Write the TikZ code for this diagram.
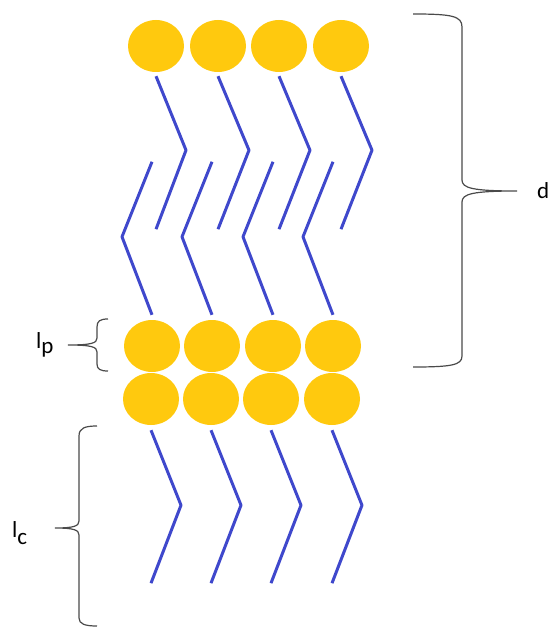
\documentclass[tikz,border=0pt]{standalone}
\usepackage{fontspec}
\setmainfont{Carlito}
\usepackage{tikz}
\usetikzlibrary{shapes.geometric}

\definecolor{headgold}{HTML}{FFC90E}
\definecolor{tailblue}{HTML}{3F48CC}
\definecolor{bracegray}{HTML}{4A4A4A}

\tikzset{
    head/.style={ellipse, fill=headgold, minimum width=56pt, minimum height=52pt, inner sep=0pt},
    tail/.style={draw=tailblue, line width=3pt, line join=round},
    bracket/.style={draw=bracegray, line width=1.2pt},
    lbl/.style={font=\fontsize{23}{26}\selectfont, inner sep=0pt, anchor=base west},
}

\begin{document}
\begin{tikzpicture}[x=1pt, y=-1pt]
        \useasboundingbox (0,0) rectangle (550,628);

        % heads of the top leaflet
        \node[head] at (156,46)   (T1) {};
        \node[head] at (218,46)   (T2) {};
        \node[head] at (279,46)   (T3) {};
        \node[head] at (341,46)   (T4) {};
        % heads of the bottom leaflet
        \node[head] at (152,346)  (M1) {};
        \node[head] at (212,346)  (M2) {};
        \node[head] at (273,346)  (M3) {};
        \node[head] at (333,346)  (M4) {};
        % heads of the next layer
        \node[head] at (151,399)  (B1) {};
        \node[head] at (211,399)  (B2) {};
        \node[head] at (271,399)  (B3) {};
        \node[head] at (332,399)  (B4) {};

        \draw[tail] ([yshift=-4pt]T1.south) -- ++(30,74) -- ++(-30,79);
        \draw[tail] ([yshift=-4pt]T2.south) -- ++(31,74) -- ++(-31,79);
        \draw[tail] ([yshift=-4pt]T3.south) -- ++(31,74) -- ++(-31,79);
        \draw[tail] ([yshift=-4pt]T4.south) -- ++(31,74) -- ++(-31,79);

        \draw[tail] ([yshift=5pt]M1.north) -- ++(-30,-78) -- ++(30,-75);
        \draw[tail] ([yshift=5pt]M2.north) -- ++(-30,-78) -- ++(30,-75);
        \draw[tail] ([yshift=5pt]M3.north) -- ++(-30,-78) -- ++(30,-75);
        \draw[tail] ([yshift=5pt]M4.north) -- ++(-30,-78) -- ++(30,-75);

        \draw[tail] ([yshift=-5pt]B1.south) -- ++(30,75) -- ++(-30,78);
        \draw[tail] ([yshift=-5pt]B2.south) -- ++(30,75) -- ++(-30,78);
        \draw[tail] ([yshift=-5pt]B3.south) -- ++(30,75) -- ++(-30,78);
        \draw[tail] ([yshift=-5pt]B4.south) -- ++(30,75) -- ++(-30,78);

        % labels
        \node[lbl] at (537,199) (d)  {d};
        \node[lbl] at (36,348)  (lp) {l\raisebox{-5pt}{p}};
        \node[lbl] at (12,537)  (lc) {l\raisebox{-7pt}{c}};

        % braces
        \draw[bracket] (413,14) .. controls (452,14) and (462,16) .. (462,27) -- (462,180)
            .. controls (462,188) and (472,191) .. (517,191)
            .. controls (472,191) and (462,194) .. (462,202) -- (462,356)
            .. controls (462,365) and (452,367) .. (413,367);
        \draw[bracket] (108,319) .. controls (100,319) and (97,321) .. (97,327) -- (97,338)
            .. controls (97,343) and (92,345) .. (68,345)
            .. controls (92,345) and (97,347) .. (97,352) -- (97,364)
            .. controls (97,369) and (100,371) .. (108,371);
        \draw[bracket] (97,426) .. controls (85,426) and (79,428) .. (79,436) -- (79,521)
            .. controls (79,526) and (74,528) .. (55,528)
            .. controls (74,528) and (79,530) .. (79,535) -- (79,618)
            .. controls (79,624) and (85,626) .. (97,626);
\end{tikzpicture}
\end{document}
